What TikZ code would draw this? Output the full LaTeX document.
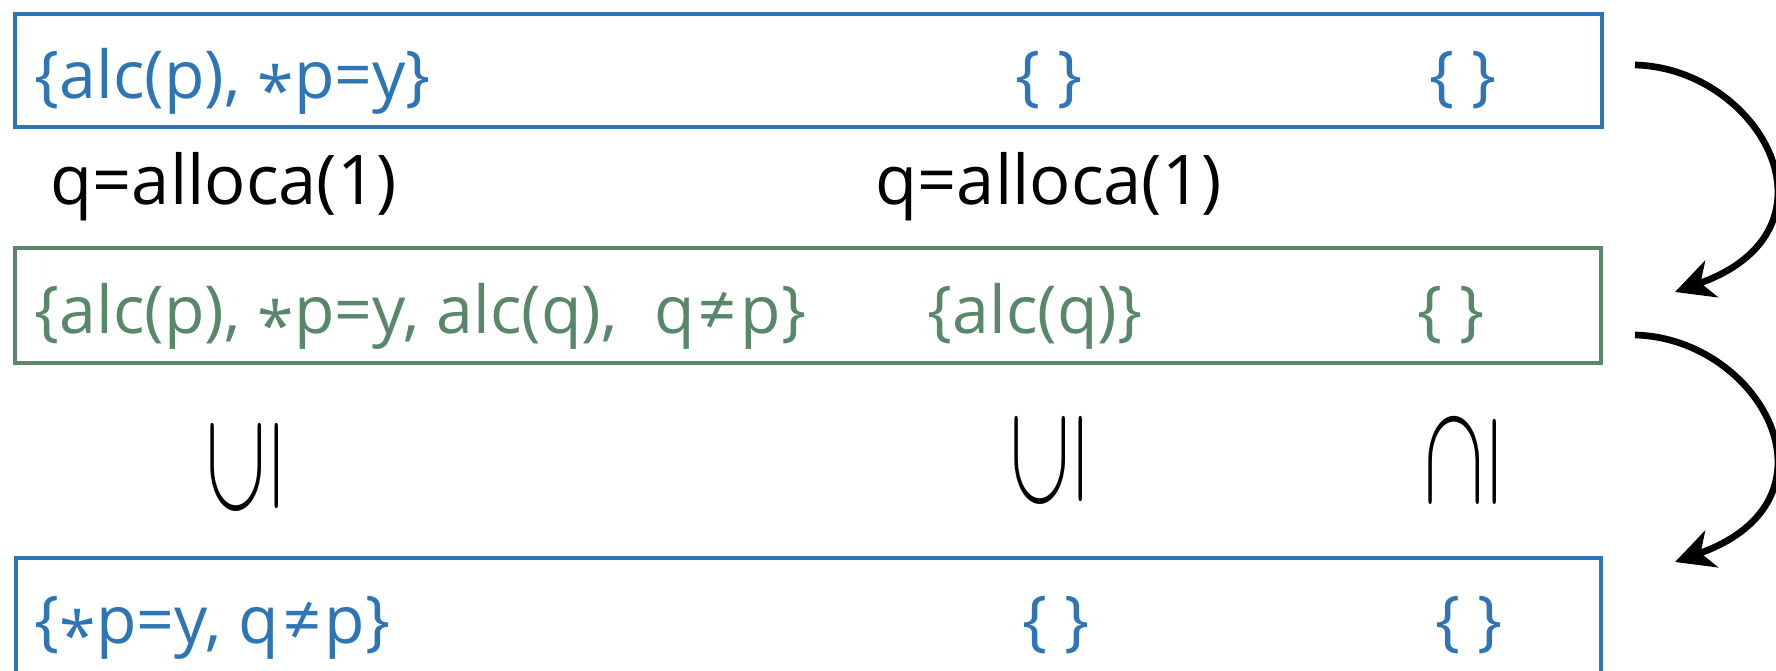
\documentclass[tikz,border=0pt]{standalone}
\usepackage{fontspec}
\setmainfont{Open Sans}
\usepackage{graphicx}
\usetikzlibrary{arrows.meta}

\definecolor{setblue}{HTML}{2E75B6}
\definecolor{setgreen}{HTML}{58876A}

\newcommand{\deref}{\raisebox{-0.24em}{*}}
\newcommand{\uporder}[1]{\scalebox{1}[1.65]{\rotatebox{90}{$#1$}}}

\tikzset{
  statebox/.style={line width=1.15pt},
  factset/.style={inner sep=0pt, font=\fontsize{18.8}{22}\selectfont},
  instr/.style={inner sep=0pt, font=\fontsize{19.5}{23}\selectfont},
  order/.style={inner sep=0pt, font=\fontsize{30}{36}\selectfont},
  flow/.style={line width=1.9pt, -{Stealth[length=11pt,width=11pt,inset=3.3pt]}},
}

\begin{document}
\begin{tikzpicture}[x=0.01cm, y=-0.01cm]
%%%%% START %%%%%
\clip (0,0) rectangle (1776,671);

% the three states
\draw[statebox, setblue] (15,14) rectangle (1602,127);
\draw[statebox, setgreen] (15,248) rectangle (1601,363);
\draw[statebox, setblue] (16,558) rectangle (1601,690);

% first state
\node[factset, setblue, anchor=base west] (preA) at (34,99) {\{alc(p), \deref p=y\}};
\node[factset, setblue, anchor=base] (preB) at (1049,99) {\{ \}};
\node[factset, setblue, anchor=base] (preC) at (1463,99) {\{ \}};

% the instruction
\node[instr, anchor=base west] (stA) at (50,205) {q=alloca(1)};
\node[instr, anchor=base west] (stB) at (875,205) {q=alloca(1)};

% second state
\node[factset, setgreen, anchor=base west] (postA) at (34,334)
  {\{alc(p), \deref p=y, alc(q),\hspace{0.3em} q\kern0.06em≠\kern0.06em p\}};
\node[factset, setgreen, anchor=base] (postB) at (1035,334) {\{alc(q)\}};
\node[factset, setgreen, anchor=base] (postC) at (1451,334) {\{ \}};

% ordering between the states
\node[order] (ordA) at (245,467) {\uporder{\subseteq}};
\node[order] (ordB) at (1049,460) {\uporder{\subseteq}};
\node[order] (ordC) at (1463,460) {\uporder{\supseteq}};

% third state
\node[factset, setblue, anchor=base west] (joinA) at (34,644) {\{\deref p=y, q\kern0.06em≠\kern0.06em p\}};
\node[factset, setblue, anchor=base] (joinB) at (1056,644) {\{ \}};
\node[factset, setblue, anchor=base] (joinC) at (1469,644) {\{ \}};

% transitions
\coordinate (outTop) at (1635,65);
\coordinate (inMid) at (1675,292);
\coordinate (outMid) at (1635,335);
\coordinate (inBot) at (1675,562);
\draw[flow] (outTop) .. controls (1760,68) and (1850,230) .. (inMid);
\draw[flow] (outMid) .. controls (1760,338) and (1850,500) .. (inBot);
%%%%% END %%%%%
\end{tikzpicture}
\end{document}
